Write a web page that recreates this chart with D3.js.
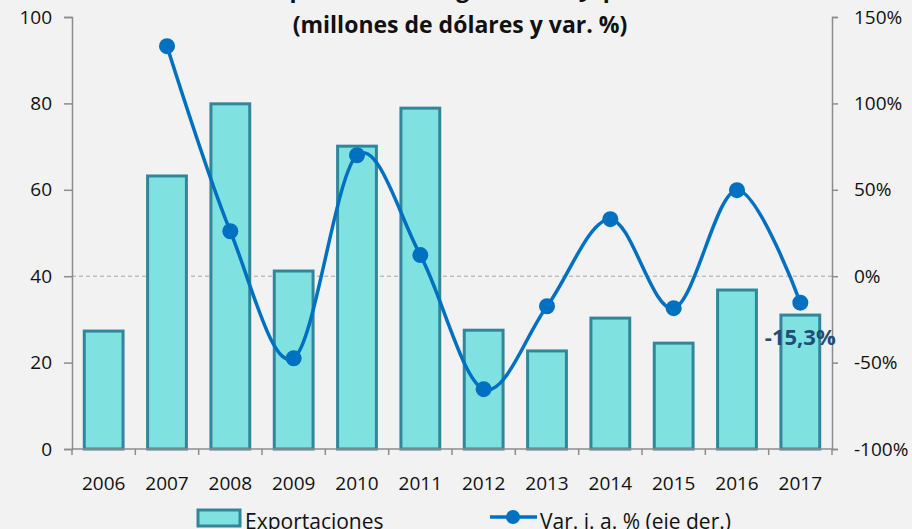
<!DOCTYPE html>
<html>
<head>
<meta charset="utf-8">
<script src="https://cdn.jsdelivr.net/npm/d3@7"></script>
<style>
  body { margin: 0; background: #f2f2f2; }
  svg { display: block; font-family: "Open Sans", sans-serif; }
</style>
</head>
<body>
<svg id="chart" width="912" height="529"></svg>
<script>
// data
var years = ["2006","2007","2008","2009","2010","2011","2012","2013","2014","2015","2016","2017"];
var exportaciones = [27.3, 63.2, 79.9, 41.2, 70.1, 78.9, 27.5, 22.7, 30.3, 24.5, 36.8, 31.0];
var variacion = [null, 133.1, 26.0, -47.5, 70.0, 12.2, -65.4, -17.4, 33.0, -18.5, 49.8, -15.3];
var leftTicks = [0, 20, 40, 60, 80, 100];
var rightTicks = [-100, -50, 0, 50, 100, 150];

var svg = d3.select("#chart");
var pLeft = 72, pRight = 832, pTop = 17, pBottom = 449;

var x = d3.scaleBand().domain(years).range([pLeft, pRight]).paddingInner(0.34).paddingOuter(0.17);
var xb = d3.scaleBand().domain(years).range([pLeft, pRight]);
var y = d3.scaleLinear().domain([0, 100]).range([pBottom, pTop]);
var y2 = d3.scaleLinear().domain([-100, 150]).range([pBottom, pTop]);

var axisCol = "#8c8c8c";

// title (first line is cut off by the frame)
svg.append("text").attr("x", 455).attr("y", -3).attr("text-anchor", "middle")
  .attr("font-size", 23).attr("font-weight", "bold").attr("fill", "#111")
  .text("Exportaciones argentinas a Japón");
svg.append("text").attr("x", 460).attr("y", 33).attr("text-anchor", "middle")
  .attr("font-size", 23).attr("font-weight", "bold").attr("fill", "#111")
  .text("(millones de dólares y var. %)");

// zero line of the right axis
svg.append("line").attr("x1", pLeft).attr("x2", pRight)
  .attr("y1", y2(0)).attr("y2", y2(0))
  .attr("stroke", "#a6a6a6").attr("stroke-dasharray", "4,3").attr("stroke-width", 1);

// bars
svg.selectAll("rect.bar").data(exportaciones).enter().append("rect")
  .attr("class", "bar")
  .attr("x", function(d, i) { return x(years[i]) + 1.5; })
  .attr("width", x.bandwidth() - 3)
  .attr("y", function(d) { return y(d); })
  .attr("height", function(d) { return pBottom - y(d); })
  .attr("fill", "#80e2e0")
  .attr("stroke", "#31869b")
  .attr("stroke-width", 3);

// left axis
var gl = svg.append("g").attr("transform", "translate(" + pLeft + ",0)")
  .call(d3.axisLeft(y).tickValues(leftTicks).tickSize(8).tickPadding(12));
// right axis
var gr = svg.append("g").attr("transform", "translate(" + pRight + ",0)")
  .call(d3.axisRight(y2).tickValues(rightTicks).tickSize(6).tickPadding(16)
    .tickFormat(function(d) { return d + "%"; }));
// bottom axis
var gb = svg.append("g").attr("transform", "translate(0," + pBottom + ")")
  .call(d3.axisBottom(xb).tickSize(0).tickPadding(28));
svg.selectAll("line.xt").data(years.concat(["end"])).enter().append("line")
  .attr("class", "xt")
  .attr("x1", function(d, i) { return pLeft + i * xb.step(); })
  .attr("x2", function(d, i) { return pLeft + i * xb.step(); })
  .attr("y1", pBottom).attr("y2", pBottom + 6)
  .attr("stroke", axisCol).attr("stroke-width", 1.5);

[gl, gr, gb].forEach(function(g) {
  g.select(".domain").attr("stroke", axisCol).attr("stroke-width", 1.5);
  g.selectAll(".tick line").attr("stroke", axisCol).attr("stroke-width", 1.5);
  g.selectAll(".tick text").attr("font-size", 19).attr("fill", "#111")
    .attr("font-family", "'Open Sans', sans-serif");
});
gb.select(".domain").attr("d", "M" + pLeft + ",0H" + pRight);

// line
var pts = [];
variacion.forEach(function(v, i) { if (v !== null) pts.push([xb(years[i]) + xb.bandwidth() / 2, y2(v)]); });
var line = d3.line().curve(d3.curveCatmullRom.alpha(0));
svg.append("path").attr("d", line(pts))
  .attr("fill", "none").attr("stroke", "#0070c0").attr("stroke-width", 3.5);
svg.selectAll("circle.pt").data(pts).enter().append("circle")
  .attr("class", "pt")
  .attr("cx", function(d) { return d[0]; })
  .attr("cy", function(d) { return d[1]; })
  .attr("r", 8).attr("fill", "#0070c0");

// last value label
var last = variacion[variacion.length - 1];
svg.append("text")
  .attr("x", xb(years[11]) + xb.bandwidth() / 2)
  .attr("y", y2(last) + 42)
  .attr("text-anchor", "middle").attr("font-size", 22).attr("font-weight", "bold")
  .attr("fill", "#1f4e79")
  .text(String(last).replace(".", ",") + "%");

// legend
var lg = svg.append("g");
lg.append("rect").attr("x", 198).attr("y", 510).attr("width", 42).attr("height", 16)
  .attr("fill", "#80e2e0").attr("stroke", "#31869b").attr("stroke-width", 3);
lg.append("text").attr("x", 245).attr("y", 529).attr("font-size", 21).attr("fill", "#111")
  .text("Exportaciones");
lg.append("line").attr("x1", 490).attr("x2", 537).attr("y1", 517).attr("y2", 517)
  .attr("stroke", "#0070c0").attr("stroke-width", 3.5);
lg.append("circle").attr("cx", 513).attr("cy", 517).attr("r", 7).attr("fill", "#0070c0");
lg.append("text").attr("x", 540).attr("y", 529).attr("font-size", 21).attr("fill", "#111")
  .text("Var. i. a. % (eje der.)");
</script>
</body>
</html>
